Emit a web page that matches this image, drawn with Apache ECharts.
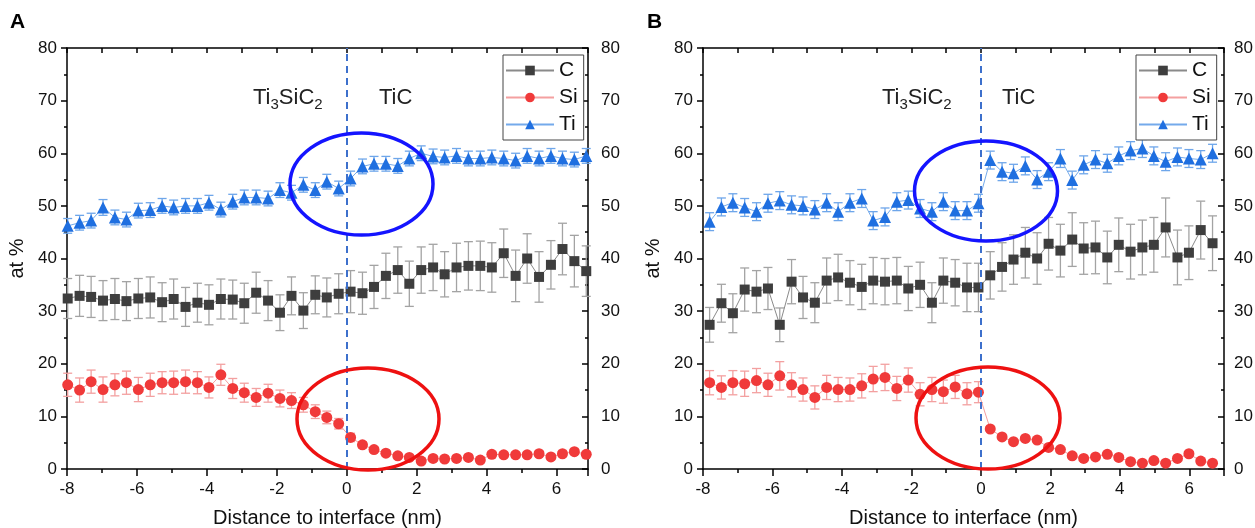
<!DOCTYPE html>
<html><head><meta charset="utf-8">
<script src="https://cdn.jsdelivr.net/npm/echarts@6/dist/echarts.min.js"></script>
<style>html,body{margin:0;padding:0;background:#fff;} #c{width:1255px;height:528px;}</style>
</head><body><div id="c"></div>
<script>
// ---------- data ----------
const xTicks = [-8, -6, -4, -2, 0, 2, 4, 6];
const yTicks = [0, 10, 20, 30, 40, 50, 60, 70, 80];

// Panel A
const xA = [-7.98,-7.64,-7.31,-6.97,-6.63,-6.30,-5.96,-5.62,-5.28,-4.95,-4.61,-4.27,-3.94,-3.60,-3.26,-2.93,-2.59,-2.25,-1.91,-1.58,-1.24,-0.90,-0.57,-0.23,0.11,0.45,0.78,1.12,1.46,1.79,2.13,2.47,2.80,3.14,3.48,3.82,4.15,4.49,4.83,5.16,5.50,5.84,6.17,6.51,6.85];
const cA = [32.4,32.9,32.7,32.0,32.3,31.9,32.4,32.6,31.7,32.3,30.8,31.6,31.2,32.3,32.2,31.5,33.5,32.0,29.7,32.9,30.1,33.1,32.6,33.3,33.7,33.4,34.6,36.7,37.8,35.2,37.8,38.3,37.0,38.3,38.6,38.6,38.3,41.0,36.7,40.0,36.5,38.8,41.8,39.5,37.6];
const cAerr = [3.8,3.9,3.9,3.8,3.9,3.7,3.8,3.9,3.7,3.8,3.7,3.7,3.8,3.8,3.7,3.8,3.9,3.8,3.4,3.6,3.4,3.6,3.7,3.8,4.0,4.0,4.1,4.3,4.4,4.3,4.4,4.4,4.3,4.6,4.6,4.7,4.7,4.6,4.9,4.7,4.8,4.6,4.9,4.9,4.8];
const siA = [16.0,15.0,16.6,15.1,16.0,16.4,15.1,16.0,16.4,16.4,16.6,16.4,15.5,17.9,15.3,14.5,13.6,14.4,13.4,13.0,12.2,10.9,9.8,8.6,6.0,4.6,3.7,3.0,2.5,2.2,1.5,2.0,1.9,2.0,2.2,1.7,2.8,2.7,2.7,2.7,2.9,2.3,2.9,3.3,2.8];
const siAerr = [2.2,2.3,2.2,2.4,2.1,2.2,2.3,2.2,2.1,2.2,2.2,2.1,2.0,2.0,1.9,1.8,1.7,1.7,1.6,1.5,1.4,1.3,1.2,1.0,0.8,0.6,0.5,0.5,0.5,0.5,0.5,0.5,0.5,0.5,0.5,0.5,0.5,0.5,0.5,0.5,0.5,0.5,0.5,0.5,0.5];
const tiA = [46.2,46.8,47.2,49.7,47.8,47.4,49.1,49.2,50.0,49.7,50.0,50.0,50.6,49.3,50.8,51.6,51.6,51.4,53.0,52.5,54.0,53.0,54.6,53.3,55.2,57.5,58.0,58.0,57.6,59.0,60.0,59.4,59.2,59.5,59.0,59.0,59.2,59.0,58.6,59.5,59.0,59.5,59.0,58.8,59.5];
const tiAerr = [1.4,1.4,1.4,1.5,1.4,1.4,1.4,1.4,1.4,1.4,1.4,1.4,1.4,1.4,1.4,1.4,1.4,1.4,1.4,1.4,1.4,1.4,1.4,1.4,1.4,1.4,1.4,1.4,1.4,1.4,1.4,1.4,1.4,1.4,1.4,1.4,1.4,1.4,1.4,1.4,1.4,1.4,1.4,1.4,1.4];

// Panel B
const xB = [-7.81,-7.47,-7.14,-6.80,-6.46,-6.13,-5.79,-5.45,-5.12,-4.78,-4.44,-4.11,-3.77,-3.43,-3.10,-2.76,-2.42,-2.09,-1.75,-1.41,-1.08,-0.74,-0.40,-0.07,0.27,0.61,0.94,1.28,1.62,1.95,2.29,2.63,2.96,3.30,3.64,3.97,4.31,4.65,4.98,5.32,5.66,5.99,6.33,6.67];
const cB = [27.4,31.5,29.6,34.1,33.7,34.3,27.4,35.6,32.6,31.6,35.8,36.4,35.4,34.6,35.8,35.6,35.8,34.3,35.0,31.6,35.8,35.4,34.5,34.5,36.8,38.4,39.8,41.1,40.0,42.8,41.5,43.6,41.9,42.1,40.2,42.6,41.3,42.1,42.6,45.9,40.2,41.1,45.4,42.9];
const cBerr = [3.3,3.6,3.7,4.1,4.0,4.0,3.2,4.2,4.0,3.8,4.3,4.4,4.2,4.3,4.4,4.4,4.4,4.2,4.3,3.8,4.3,4.4,4.6,4.6,4.5,4.6,4.7,4.8,4.9,5.0,5.0,5.1,4.9,5.0,5.0,5.1,5.2,5.2,5.2,5.6,5.2,5.1,5.5,5.2];
const siB = [16.4,15.5,16.4,16.2,16.8,16.0,17.7,16.0,15.1,13.6,15.5,15.1,15.1,15.8,17.1,17.4,15.3,16.9,14.2,15.1,14.7,15.6,14.3,14.6,7.6,6.1,5.2,5.8,5.5,4.1,3.7,2.5,2.0,2.3,2.8,2.2,1.4,1.1,1.6,1.1,2.0,2.9,1.5,1.1];
const siBerr = [2.3,2.2,2.3,2.4,2.3,2.2,2.7,2.3,2.2,2.2,2.3,2.3,2.2,2.3,2.4,2.5,2.3,2.3,2.2,2.3,2.2,2.2,2.1,2.0,0.4,0.4,0.4,0.4,0.4,0.4,0.4,0.4,0.4,0.4,0.4,0.4,0.4,0.4,0.4,0.4,0.4,0.4,0.4,0.4];
const tiB = [47.0,49.8,50.6,49.7,48.9,50.5,51.0,50.2,50.0,49.3,50.6,48.9,50.6,51.4,47.2,47.9,50.8,51.1,49.5,48.9,50.8,49.1,49.1,50.5,58.7,56.5,56.2,57.6,55.0,56.5,59.0,54.9,57.8,58.8,58.1,59.5,60.5,60.9,59.5,58.4,59.3,59.0,58.8,60.0];
const tiBerr = [1.7,1.7,1.7,1.7,1.7,1.7,1.7,1.7,1.7,1.7,1.7,1.7,1.7,1.7,1.7,1.7,1.7,1.7,1.7,1.7,1.7,1.7,1.7,1.7,1.7,1.7,1.7,1.7,1.7,1.7,1.7,1.7,1.7,1.7,1.7,1.7,1.7,1.7,1.7,1.7,1.7,1.7,1.7,1.7];

const seriesNames = ['C', 'Si', 'Ti'];
const xTitle = 'Distance to interface (nm)';
const yTitle = 'at %';

// ---------- chart ----------
const FONT = '"Liberation Sans", Arial, sans-serif';
const COL = {
  C:  {mark:'#3e3e3e', line:'#8a8a8a', err:'#a3a3a3', symbol:'rect', size:10},
  Si: {mark:'#f03a3a', line:'#f4a0a0', err:'#f3a0a0', symbol:'circle', size:11},
  Ti: {mark:'#1f6fe0', line:'#74aaeb', err:'#6ea6ea', symbol:'triangle', size:12}
};

function pairs(xs, ys) { return xs.map((x, i) => [x, ys[i]]); }
function triples(xs, ys, es) { return xs.map((x, i) => [x, ys[i], es[i]]); }

function errSeries(name, xs, ys, es, gi, color) {
  return {
    type: 'custom', name: name + ' err', xAxisIndex: gi * 2, yAxisIndex: gi * 2,
    z: 2, silent: true, clip: false,
    data: triples(xs, ys, es),
    encode: {x: 0, y: 1},
    renderItem: function (params, api) {
      const x = api.value(0), v = api.value(1), e = api.value(2);
      const t = api.coord([x, v + e]), b = api.coord([x, v - e]);
      const hw = 4.5;
      const st = {stroke: color, lineWidth: 1.3, fill: null};
      return {type: 'group', children: [
        {type: 'line', shape: {x1: t[0], y1: t[1], x2: b[0], y2: b[1]}, style: st},
        {type: 'line', shape: {x1: t[0] - hw, y1: t[1], x2: t[0] + hw, y2: t[1]}, style: st},
        {type: 'line', shape: {x1: b[0] - hw, y1: b[1], x2: b[0] + hw, y2: b[1]}, style: st}
      ]};
    }
  };
}

function lineSeries(name, xs, ys, gi, withMark) {
  const c = COL[name];
  const s = {
    type: 'line', name: name, xAxisIndex: gi * 2, yAxisIndex: gi * 2, z: 3,
    data: pairs(xs, ys), symbol: c.symbol, symbolSize: c.size, showAllSymbol: true,
    itemStyle: {color: c.mark}, lineStyle: {color: c.line, width: 1},
    animation: false
  };
  if (withMark) {
    s.markLine = {silent: true, symbol: 'none', label: {show: false},
      lineStyle: {color: '#3d70cc', type: [7, 5], width: 2},
      data: [{xAxis: 0}]};
  }
  return s;
}

const grids = [
  {left: 67, top: 48, width: 521, height: 421, outerBoundsMode: 'none', containLabel: false},
  {left: 703, top: 48, width: 521, height: 421, outerBoundsMode: 'none', containLabel: false}
];
const xMax = [6.9, 7];
const rightMargin = [13, 10];

const xAxes = [], yAxes = [];
[0, 1].forEach(gi => {
  xAxes.push({
    type: 'value', gridIndex: gi, position: 'bottom', min: -8, max: xMax[gi], interval: 2,
    axisLine: {show: true, onZero: false, lineStyle: {color: '#000', width: 1.5}},
    axisTick: {show: true, inside: false, length: 7, lineStyle: {color: '#000', width: 1.5}},
    minorTick: {show: true, splitNumber: 2, length: 4, lineStyle: {color: '#000', width: 1.5}},
    axisLabel: {show: true, fontSize: 17, color: '#111', fontFamily: FONT, margin: 12,
      formatter: v => (xTicks.indexOf(v) >= 0 ? String(v) : '')},
    splitLine: {show: false},
    name: xTitle, nameLocation: 'middle', nameGap: 39,
    nameTextStyle: {fontSize: 20, color: '#111', fontFamily: FONT}
  });
  xAxes.push({
    type: 'value', gridIndex: gi, position: 'top', min: -8, max: xMax[gi], interval: 1,
    axisLine: {show: true, onZero: false, lineStyle: {color: '#000', width: 1.5}},
    axisTick: {show: true, inside: true, length: 5, lineStyle: {color: '#000', width: 1.5}},
    axisLabel: {show: false}, splitLine: {show: false}
  });
  yAxes.push({
    type: 'value', gridIndex: gi, position: 'left', min: 0, max: 80, interval: 10,
    axisLine: {show: true, onZero: false, lineStyle: {color: '#000', width: 1.5}},
    axisTick: {show: true, inside: false, length: 6, lineStyle: {color: '#000', width: 1.5}},
    minorTick: {show: true, splitNumber: 2, length: 3, lineStyle: {color: '#000', width: 1.5}},
    axisLabel: {show: true, fontSize: 17, color: '#111', fontFamily: FONT, margin: 10,
      formatter: v => (yTicks.indexOf(v) >= 0 ? String(v) : '')},
    splitLine: {show: false},
    name: yTitle, nameLocation: 'middle', nameGap: 40, nameRotate: 90,
    nameTextStyle: {fontSize: 20, color: '#111', fontFamily: FONT}
  });
  yAxes.push({
    type: 'value', gridIndex: gi, position: 'right', min: 0, max: 80, interval: 10,
    axisLine: {show: true, onZero: false, lineStyle: {color: '#000', width: 1.5}},
    axisTick: {show: true, inside: true, length: 6, lineStyle: {color: '#000', width: 1.5}},
    minorTick: {show: true, splitNumber: 2, length: 3, lineStyle: {color: '#000', width: 1.5}},
    axisLabel: {show: true, fontSize: 17, color: '#111', fontFamily: FONT, margin: rightMargin[gi],
      formatter: v => (yTicks.indexOf(v) >= 0 ? String(v) : '')},
    splitLine: {show: false}
  });
});

const series = [
  errSeries('C', xA, cA, cAerr, 0, COL.C.err),
  errSeries('Si', xA, siA, siAerr, 0, COL.Si.err),
  errSeries('Ti', xA, tiA, tiAerr, 0, COL.Ti.err),
  lineSeries('C', xA, cA, 0, true),
  lineSeries('Si', xA, siA, 0, false),
  lineSeries('Ti', xA, tiA, 0, false),
  errSeries('C', xB, cB, cBerr, 1, COL.C.err),
  errSeries('Si', xB, siB, siBerr, 1, COL.Si.err),
  errSeries('Ti', xB, tiB, tiBerr, 1, COL.Ti.err),
  lineSeries('C', xB, cB, 1, true),
  lineSeries('Si', xB, siB, 1, false),
  lineSeries('Ti', xB, tiB, 1, false)
];

function legendAt(left) {
  return {
    data: seriesNames, orient: 'vertical', left: left, top: 55,
    itemWidth: 48, itemHeight: 12, itemGap: 6,
    textStyle: {fontSize: 21, color: '#111', fontFamily: FONT},
    borderColor: '#444', borderWidth: 1, padding: [5, 6, 5, 2],
    backgroundColor: '#fff', selectedMode: false
  };
}

const richSub = {
  n: {fontSize: 22, fontFamily: FONT, color: '#222', lineHeight: 26, verticalAlign: 'bottom'},
  s: {fontSize: 15, fontFamily: FONT, color: '#222', lineHeight: 15, verticalAlign: 'bottom', padding: [0, 0, -3, 0]}
};
function label(x, y, text) {
  return {type: 'text', left: x, top: y, z: 10,
    style: {text: text, rich: richSub, fill: '#222', font: '22px ' + FONT}};
}
function ell(cx, cy, rx, ry, color) {
  return {type: 'ellipse', z: 10, silent: true, shape: {cx: cx, cy: cy, rx: rx, ry: ry},
    style: {fill: null, stroke: color, lineWidth: 3.5}};
}

const option = {
  animation: false,
  backgroundColor: '#fff',
  grid: grids,
  xAxis: xAxes,
  yAxis: yAxes,
  legend: [legendAt(503), legendAt(1136)],
  series: series,
  graphic: [
    {type: 'text', left: 10, top: 12, style: {text: 'A', font: 'bold 21px ' + FONT, fill: '#000'}},
    {type: 'text', left: 647, top: 12, style: {text: 'B', font: 'bold 21px ' + FONT, fill: '#000'}},
    label(253, 87, '{n|Ti}{s|3}{n|SiC}{s|2}'),
    label(379, 87, '{n|TiC}'),
    label(882, 87, '{n|Ti}{s|3}{n|SiC}{s|2}'),
    label(1002, 87, '{n|TiC}'),
    ell(361.5, 184, 71.5, 51, '#1414ff'),
    ell(368, 419, 71, 51, '#ee1111'),
    ell(986, 191, 71.5, 50, '#1414ff'),
    ell(988, 418, 72, 51, '#ee1111')
  ]
};

const chart = echarts.init(document.getElementById('c'), null, {renderer: 'canvas'});
chart.setOption(option);
</script>
</body></html>
